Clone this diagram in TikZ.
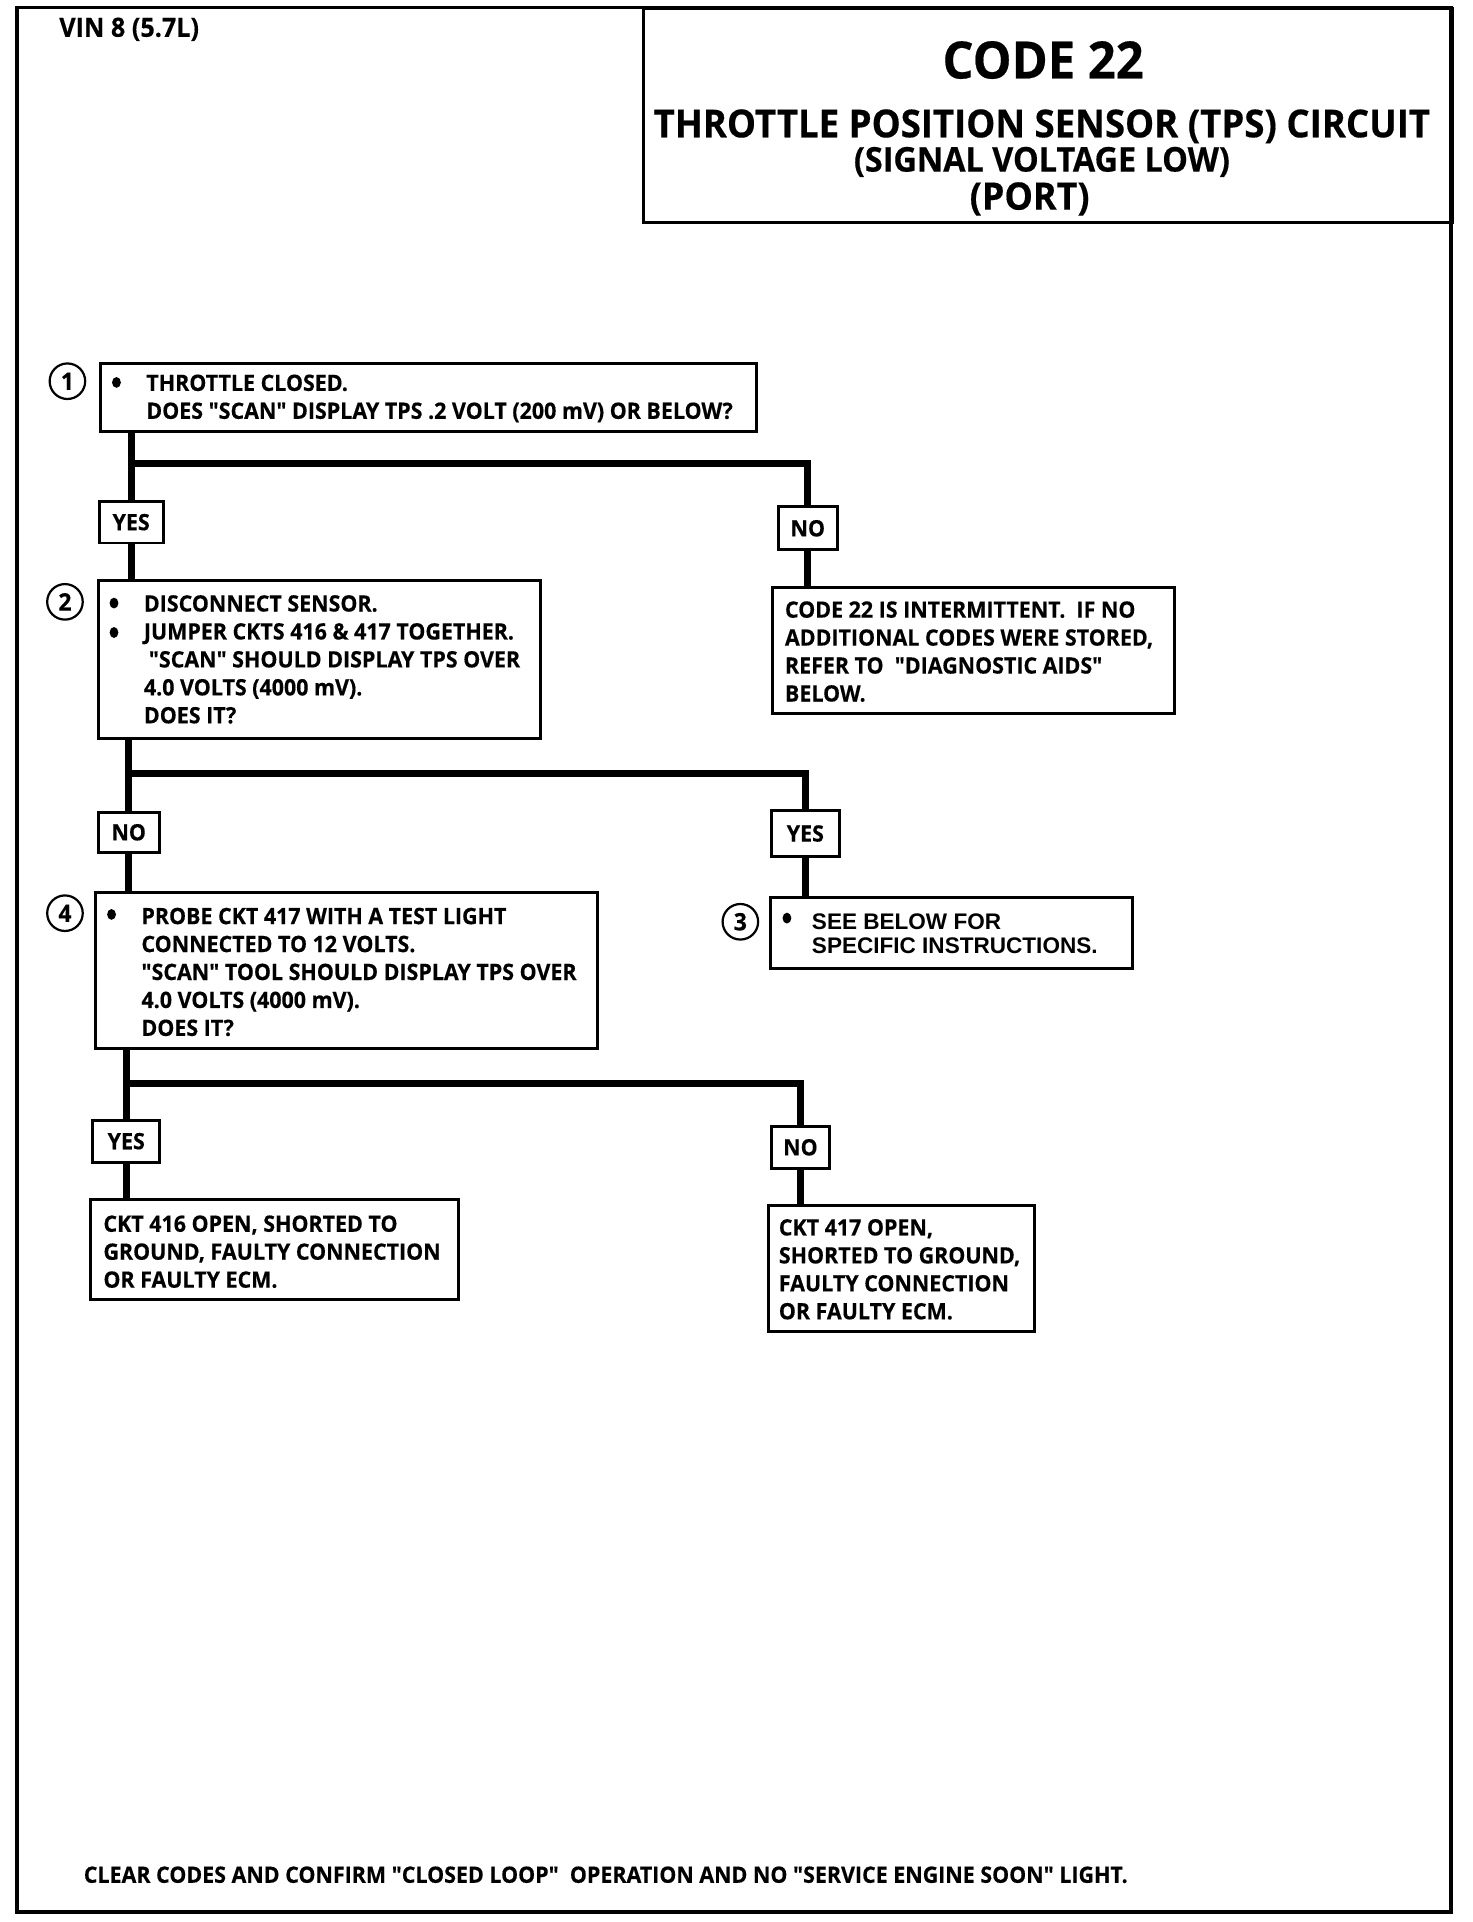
\documentclass[tikz,border=0pt]{standalone}
\usepackage{fontspec}
\usetikzlibrary{shapes.geometric}
\setmainfont{Open Sans}
\newfontfamily\cnd{Open Sans}[FakeStretch=0.95, BoldFeatures={FakeBold=0.4}]
\newfontfamily\hvb{Liberation Sans}
\newcommand\mystrut{\rule{0pt}{8pt}}
\newcommand\hvstrut{\rule{0pt}{9pt}}
\begin{document}
\begin{tikzpicture}[x=0.5pt,y=-0.5pt,
 frame/.style={line width=1.5pt},
 box/.style={draw, line width=1.2pt, rectangle, inner sep=0pt, anchor=north west},
 lbl/.style={draw, line width=1.2pt, rectangle, inner sep=0pt, fill=white, font=\cnd\bfseries\fontsize{9.2}{10}\selectfont},
 txt/.style={inner sep=0pt, anchor=north west, align=left, font=\cnd\bfseries\fontsize{9.2}{11.4}\selectfont},
 num/.style={circle, draw, line width=0.9pt, minimum size=14.5pt, inner sep=0pt, font=\cnd\bfseries\fontsize{9.8}{10}\selectfont},
 bul/.style={ellipse, fill, inner sep=0pt, minimum width=3.6pt, minimum height=4.4pt},
 conn/.style={line width=2.8pt},
 ttl/.style={inner sep=0pt, anchor=base}
]
\useasboundingbox (0,0) rectangle (1201,1568);
\fill[white] (0,0) rectangle (1201,1568);
% frame and title block
\draw[frame] (14,6) rectangle (1184,1560);
\node[box, minimum width=330pt, minimum height=87pt] (tbox) at (524,6) {};
\node[ttl, font=\cnd\bfseries\fontsize{21}{24}\selectfont] (code) at (851,64) {CODE 22};
\node[ttl, font=\cnd\bfseries\fontsize{15.7}{18}\selectfont] (title) at (850,112) {THROTTLE POSITION SENSOR (TPS) CIRCUIT};
\node[ttl, font=\cnd\bfseries\fontsize{13.9}{16}\selectfont] (sub) at (850,140) {(SIGNAL VOLTAGE LOW)};
\node[ttl, font=\cnd\bfseries\fontsize{15.4}{18}\selectfont] (port) at (840,171) {(PORT)};
\node[inner sep=0pt, anchor=base west, font=\cnd\bfseries\fontsize{10.8}{12}\selectfont] (vin) at (48,30) {VIN 8 (5.7L)};
\node[inner sep=0pt, anchor=base west, font=\cnd\bfseries\fontsize{9.2}{10}\selectfont] (foot) at (68,1536) {CLEAR CODES AND CONFIRM "CLOSED LOOP"\ \ OPERATION AND NO "SERVICE ENGINE SOON" LIGHT.};

% boxes
\node[box, minimum width=267.5pt, minimum height=28pt] (b1) at (81,295) {};
\node[box, minimum width=164pt, minimum height=51.5pt] (bint) at (629,478) {};
\node[box, minimum width=180.5pt, minimum height=64.5pt] (b2) at (79,472) {};
\node[box, minimum width=148pt, minimum height=29pt] (b3) at (627,731) {};
\node[box, minimum width=204.5pt, minimum height=63.5pt] (b4) at (77,727) {};
\node[box, minimum width=150pt, minimum height=41pt] (b416) at (73,977) {};
\node[box, minimum width=108.5pt, minimum height=51.5pt] (b417) at (626,982) {};

% step numbers
\node[num] (n1) at (55,311) {1};
\node[num] (n2) at (53,491) {2};
\node[num] (n3) at (604,752) {3};
\node[num] (n4) at (53,745) {4};

% bullets
\node[bul] (u1) at (95,312) {};
\node[bul] (u2a) at (93,492) {};
\node[bul] (u2b) at (93,516) {};
\node[bul] (u3) at (642,749) {};
\node[bul] (u4) at (91,746) {};

% box texts
\node[txt] (t1) at (119,302.5) {\mystrut THROTTLE CLOSED.\\DOES "SCAN" DISPLAY TPS .2 VOLT (200 mV) OR BELOW?};
\node[txt] (tint) at (640,487.5) {\mystrut CODE 22 IS INTERMITTENT.\ \ IF NO\\ADDITIONAL CODES WERE STORED,\\REFER TO\ \ "DIAGNOSTIC AIDS"\\BELOW.};
\node[txt] (t2) at (117,482.5) {\mystrut DISCONNECT SENSOR.\\JUMPER CKTS 416 \& 417 TOGETHER.\\\hspace*{2pt}"SCAN" SHOULD DISPLAY TPS OVER\\4.0 VOLTS (4000 mV).\\DOES IT?};
\node[inner sep=0pt, anchor=north west, align=left, font=\hvb\bfseries\fontsize{9.2}{10}\selectfont] (t3) at (662,739.5) {\hvstrut SEE BELOW FOR\\SPECIFIC INSTRUCTIONS.};
\node[txt] (t4) at (115,737.5) {\mystrut PROBE CKT 417 WITH A TEST LIGHT\\CONNECTED TO 12 VOLTS.\\"SCAN" TOOL SHOULD DISPLAY TPS OVER\\4.0 VOLTS (4000 mV).\\DOES IT?};
\node[txt] (t416) at (84,988.5) {\mystrut CKT 416 OPEN, SHORTED TO\\GROUND, FAULTY CONNECTION\\OR FAULTY ECM.};
\node[txt] (t417) at (635,991.5) {\mystrut CKT 417 OPEN,\\SHORTED TO GROUND,\\FAULTY CONNECTION\\OR FAULTY ECM.};

% answer labels
\node[lbl, minimum width=26pt, minimum height=17pt] (y1) at (107,426) {YES};
\node[lbl, minimum width=24pt, minimum height=17.5pt] (no1) at (659,431) {NO};
\node[lbl, minimum width=25pt, minimum height=16.5pt] (no2) at (105,679) {NO};
\node[lbl, minimum width=27.5pt, minimum height=19pt] (y2) at (657,680) {YES};
\node[lbl, minimum width=27.5pt, minimum height=17pt] (y3) at (103,931) {YES};
\node[lbl, minimum width=23.5pt, minimum height=17pt] (no3) at (653,936) {NO};

% junctions
\coordinate (j1) at (107,378);
\coordinate (j2) at (105,631);
\coordinate (j3) at (103,884);

% connectors
\draw[conn] (b1.south -| y1) -- (y1.north);
\draw[conn] (j1) -| (no1.north);
\draw[conn] (y1.south) -- (y1.south |- b2.north);
\draw[conn] (no1.south) -- (no1.south |- bint.north);

\draw[conn] (b2.south -| no2) -- (no2.north);
\draw[conn] (j2) -| (y2.north);
\draw[conn] (no2.south) -- (no2.south |- b4.north);
\draw[conn] (y2.south) -- (y2.south |- b3.north);

\draw[conn] (b4.south -| y3) -- (y3.north);
\draw[conn] (j3) -| (no3.north);
\draw[conn] (y3.south) -- (y3.south |- b416.north);
\draw[conn] (no3.south) -- (no3.south |- b417.north);
\end{tikzpicture}
\end{document}
